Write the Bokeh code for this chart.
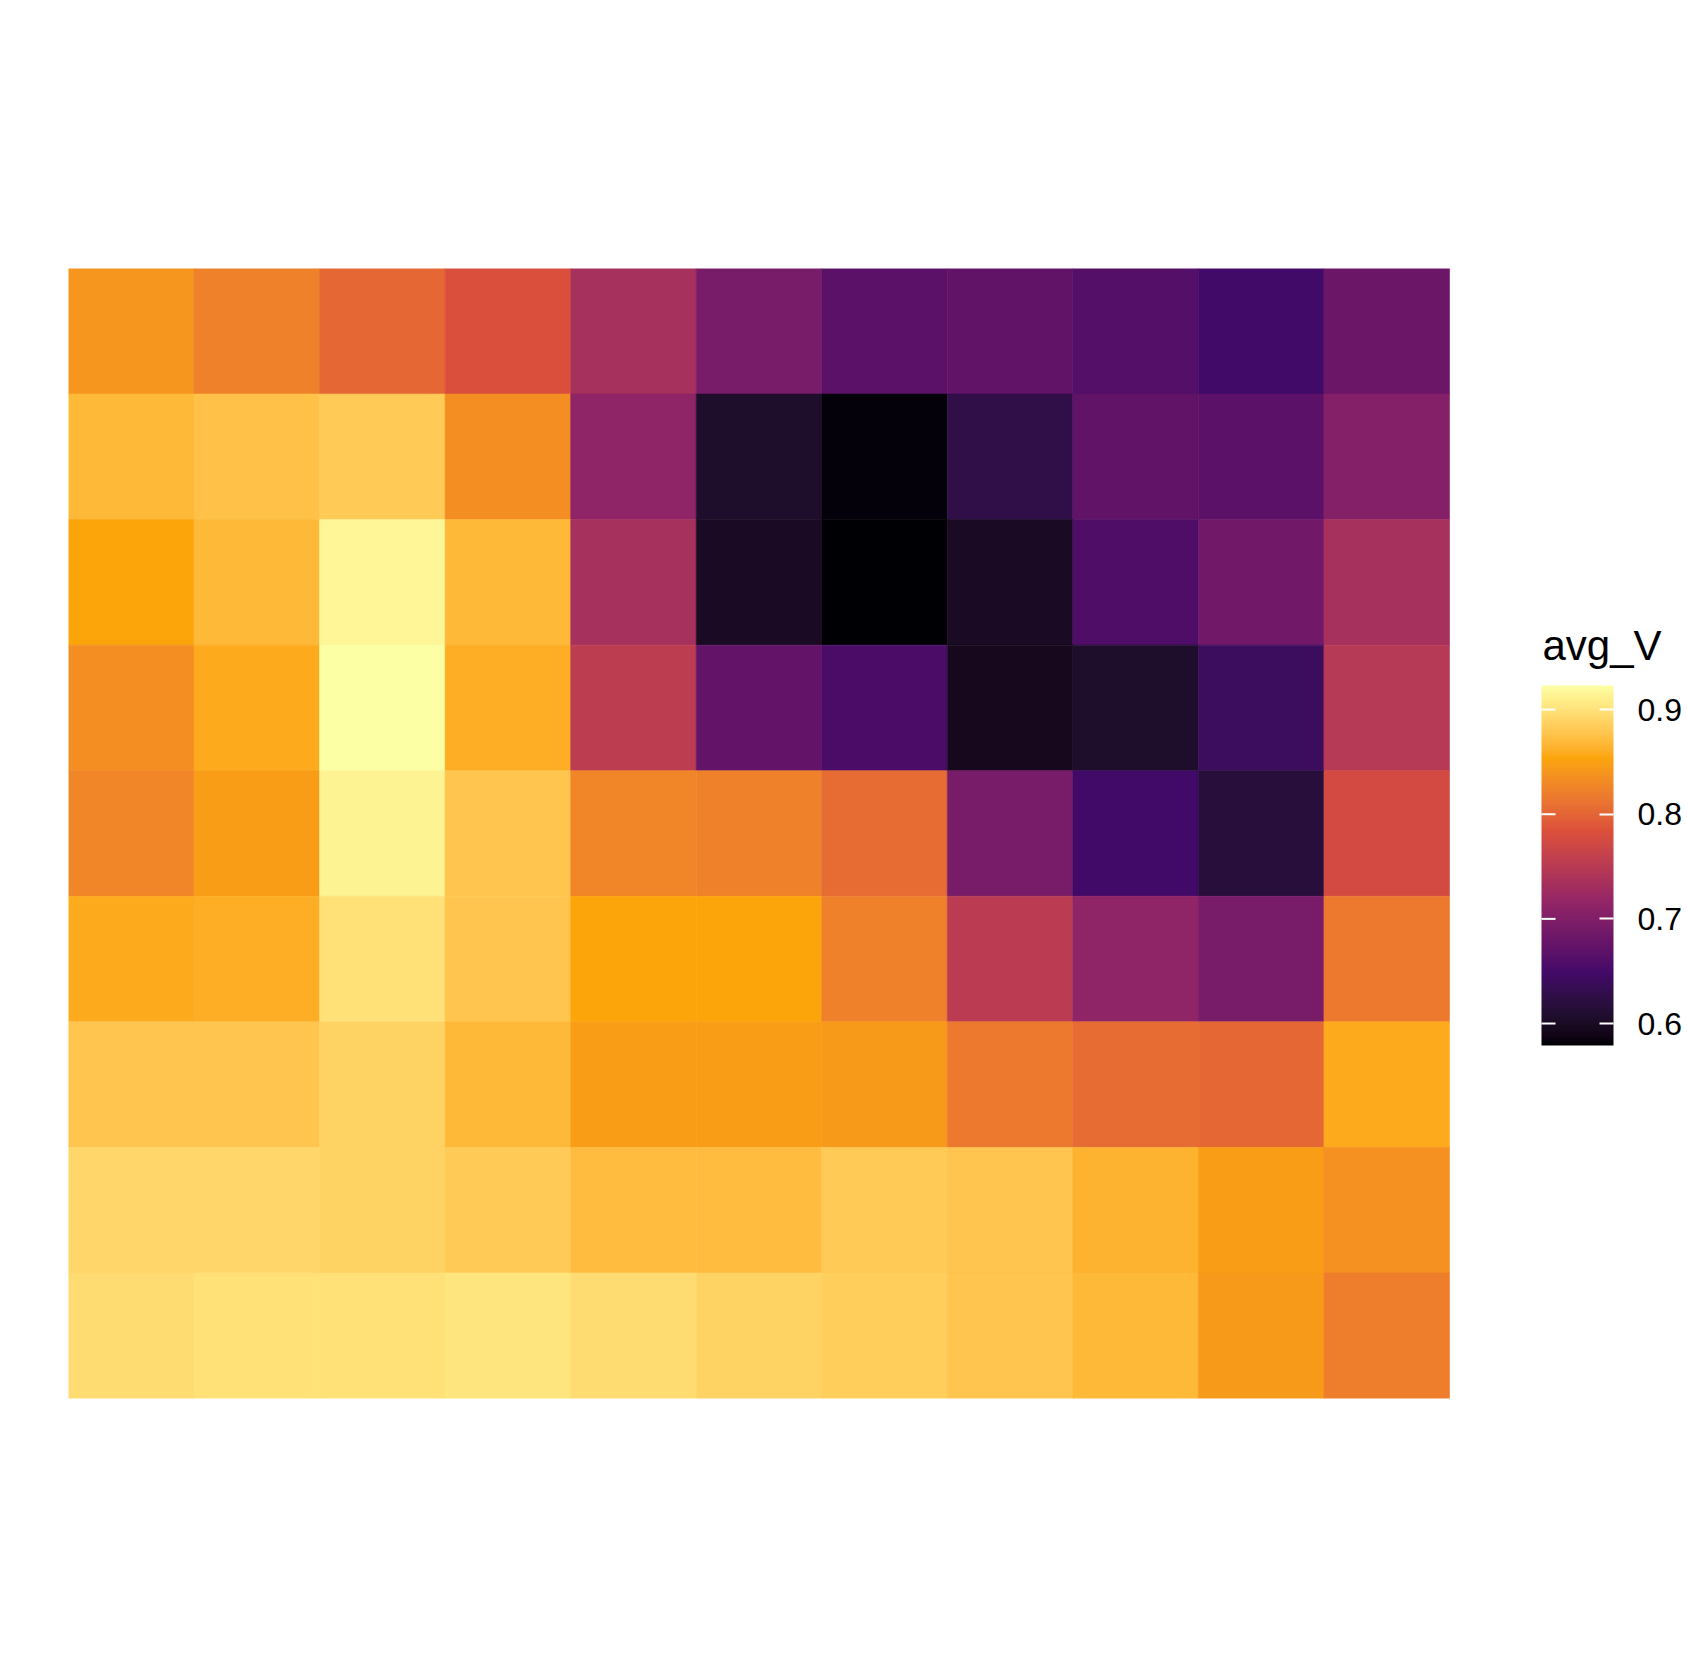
import numpy as np
from bokeh.plotting import figure
from bokeh.models import (ColumnDataSource, LinearColorMapper, ColorBar, FixedTicker, Range1d,
                          Label, BoxAnnotation)
from bokeh.embed import file_html
from bokeh.resources import INLINE

# rows listed from top (row 9) to bottom (row 1); columns 1..11
x_cats = list(range(1, 12))
y_cats = list(range(9, 0, -1))
row9 = [0.840, 0.823, 0.803, 0.782, 0.734, 0.693, 0.668, 0.672, 0.662, 0.648, 0.682]
row8 = [0.868, 0.875, 0.882, 0.834, 0.713, 0.607, 0.582, 0.627, 0.672, 0.668, 0.703]
row7 = [0.854, 0.868, 0.916, 0.868, 0.734, 0.600, 0.579, 0.600, 0.658, 0.686, 0.734]
row6 = [0.834, 0.858, 0.923, 0.861, 0.754, 0.675, 0.655, 0.596, 0.607, 0.641, 0.748]
row5 = [0.827, 0.847, 0.913, 0.878, 0.827, 0.823, 0.806, 0.693, 0.648, 0.617, 0.775]
row4 = [0.858, 0.861, 0.899, 0.878, 0.854, 0.854, 0.823, 0.751, 0.713, 0.693, 0.816]
row3 = [0.878, 0.878, 0.889, 0.868, 0.847, 0.847, 0.844, 0.816, 0.806, 0.803, 0.858]
row2 = [0.892, 0.892, 0.889, 0.882, 0.871, 0.871, 0.882, 0.878, 0.865, 0.847, 0.837]
row1 = [0.895, 0.899, 0.899, 0.902, 0.895, 0.889, 0.885, 0.878, 0.868, 0.844, 0.820]
rows = [row9, row8, row7, row6, row5, row4, row3, row2, row1]
tick_vals = [0.6, 0.7, 0.8, 0.9]
tick_labels = ["0.6", "0.7", "0.8", "0.9"]
legend_title = "avg_V"

# inferno(6) anchors, interpolated in CIE Lab (as ggplot's gradientn does)
anchors = ["#000004", "#420A68", "#932667", "#DD513A", "#FCA50A", "#FCFFA4"]

def hex2rgb(h):
    h = h.lstrip("#")
    return np.array([int(h[i:i + 2], 16) / 255 for i in (0, 2, 4)])

M = np.array([[0.4124564, 0.3575761, 0.1804375],
              [0.2126729, 0.7151522, 0.0721750],
              [0.0193339, 0.1191920, 0.9503041]])
WP = np.array([0.95047, 1.0, 1.08883])

def rgb2lab(c):
    lin = np.where(c <= 0.04045, c / 12.92, ((c + 0.055) / 1.055) ** 2.4)
    xyz = M @ lin / WP
    f = np.where(xyz > (6 / 29) ** 3, np.cbrt(xyz), xyz / (3 * (6 / 29) ** 2) + 4 / 29)
    return np.array([116 * f[1] - 16, 500 * (f[0] - f[1]), 200 * (f[1] - f[2])])

def lab2hex(lab):
    L, a, b = lab
    fy = (L + 16) / 116
    fx = fy + a / 500
    fz = fy - b / 200
    f = np.array([fx, fy, fz])
    xyz = np.where(f > 6 / 29, f ** 3, 3 * (6 / 29) ** 2 * (f - 4 / 29)) * WP
    lin = np.linalg.solve(M, xyz)
    lin = np.clip(lin, 0, 1)
    c = np.where(lin <= 0.0031308, 12.92 * lin, 1.055 * lin ** (1 / 2.4) - 0.055)
    c = np.clip(np.round(c * 255), 0, 255).astype(int)
    return "#%02x%02x%02x" % tuple(c)

labs = [rgb2lab(hex2rgb(h)) for h in anchors]
palette = []
n = 256
for i in range(n):
    t = i / (n - 1) * (len(anchors) - 1)
    k = min(int(t), len(anchors) - 2)
    f = t - k
    palette.append(lab2hex(labs[k] * (1 - f) + labs[k + 1] * f))

xs, ys, vs = [], [], []
for yv, r in zip(y_cats, rows):
    for xv, v in zip(x_cats, r):
        xs.append(xv)
        ys.append(yv)
        vs.append(v)
src = ColumnDataSource(dict(x=xs, y=ys, v=vs))

low, high = min(vs), max(vs)
mapper = LinearColorMapper(palette=palette, low=low, high=high)

# layout geometry (pixels)
W, H = 1687, 1666
left, top, bottom = 68, 268, 268
heat_w = 1381                       # width of the 11 tile columns
px_per_col = heat_w / len(x_cats)
x_end = len(x_cats) + 0.5 + (W - left - heat_w) / px_per_col   # frame extends to the right edge

p = figure(width=W, height=H, output_backend="svg", toolbar_location=None,
           x_range=Range1d(0.5, x_end), y_range=Range1d(0.5, len(y_cats) + 0.5),
           min_border_left=left, min_border_right=0, min_border_top=top, min_border_bottom=bottom)
p.rect(x="x", y="y", width=1, height=1, source=src,
       fill_color={"field": "v", "transform": mapper},
       line_color={"field": "v", "transform": mapper}, line_width=0.6)
p.axis.visible = False
p.grid.visible = False
p.outline_line_color = None
p.background_fill_color = "white"
p.border_fill_color = "white"

bar_x, bar_y, bar_w, bar_h = 1473, 353, 72, 360   # relative to frame bottom-left
cb = ColorBar(color_mapper=mapper, orientation="vertical", width=bar_w, height=bar_h,
              ticker=FixedTicker(ticks=tick_vals),
              major_label_overrides={t: l for t, l in zip(tick_vals, tick_labels)},
              major_tick_line_color="white", major_tick_in=14, major_tick_out=0,
              major_tick_line_width=2,
              minor_tick_line_color=None, bar_line_color=None,
              label_standoff=24, padding=0, margin=0,
              major_label_text_font="Liberation Sans", major_label_text_font_size="32px",
              major_label_text_color="black",
              background_fill_color=None, border_line_color=None,
              location=(bar_x, bar_y))
p.add_layout(cb, "center")

# left-side white ticks of the colour bar (ggplot draws them on both edges)
for t in tick_vals:
    ty = bar_y + (t - low) / (high - low) * bar_h
    p.add_layout(BoxAnnotation(left=bar_x, right=bar_x + 14, bottom=ty - 1, top=ty + 1,
                               left_units="screen", right_units="screen",
                               bottom_units="screen", top_units="screen",
                               fill_color="white", fill_alpha=1.0, line_color=None))

title = Label(x=bar_x + 1, y=bar_y + bar_h + 40, x_units="screen", y_units="screen",
              text=legend_title,
              text_font="Liberation Sans", text_font_size="42px", text_color="black",
              text_baseline="alphabetic", text_align="left")
p.add_layout(title)

open("out.html", "w").write(file_html(p, INLINE))
